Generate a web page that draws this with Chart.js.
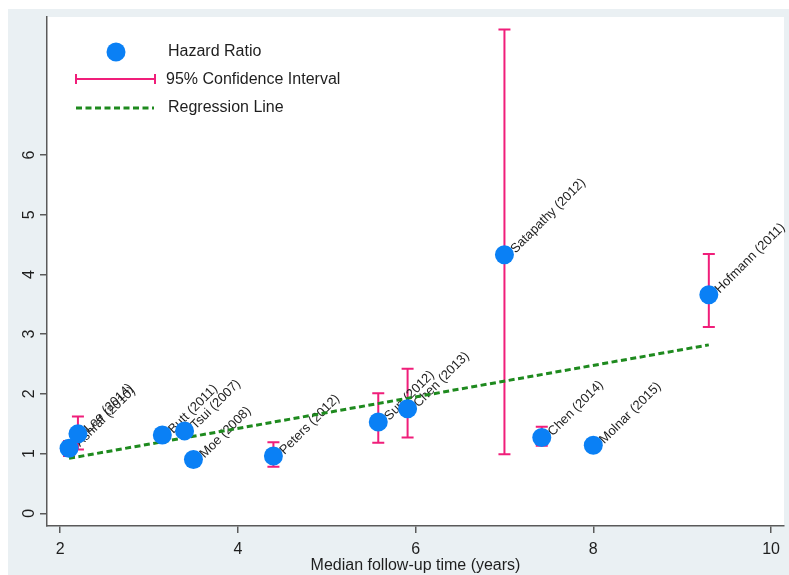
<!DOCTYPE html>
<html>
<head>
<meta charset="utf-8">
<title>Hazard ratio by median follow-up</title>
<script src="https://cdn.jsdelivr.net/npm/chart.js@4.4.0/dist/chart.umd.min.js"></script>
<style>
  html, body { margin: 0; padding: 0; background: #fff; }
  #wrap { position: relative; width: 789px; height: 575px; }
</style>
</head>
<body>
<div id="wrap"><canvas id="chart"></canvas></div>
<script>
// data
var studies  = ['Ashraf (2010)', 'Lee (2014)', 'Butt (2011)', 'Tsui (2007)', 'Moe (2008)', 'Peters (2012)',
                'Sun (2012)', 'Chen (2013)', 'Satapathy (2012)', 'Chen (2014)', 'Molnar (2015)', 'Hofmann (2011)'];
var followUp = [2.10, 2.20, 3.15, 3.40, 3.50, 4.40, 5.58, 5.91, 7.00, 7.42, 8.00, 9.30];
var hazard   = [1.09, 1.33, 1.31, 1.38, 0.90, 0.96, 1.53, 1.75, 4.33, 1.27, 1.14, 3.66];
var ciLow    = [0.96, 1.07, 1.25, 1.33, 0.86, 0.78, 1.18, 1.27, 0.99, 1.13, 1.10, 3.12];
var ciHigh   = [1.21, 1.62, 1.37, 1.43, 0.95, 1.19, 2.01, 2.42, 8.10, 1.45, 1.19, 4.34];

var regX = [2.10, 9.30];
var regY = [0.92, 2.82];

var xTicks = [2, 4, 6, 8, 10];
var yTicks = [0, 1, 2, 3, 4, 5, 6];
var legendLabels = ['Hazard Ratio', '95% Confidence Interval', 'Regression Line'];
var xTitle = 'Median follow-up time (years)';

var HR_COLOR = '#0a80f5';
var CI_COLOR = '#f01e7a';
var REG_COLOR = '#1e8a1e';
var AXIS_COLOR = '#5a5a5a';
var TEXT_COLOR = '#1e1e1e';
var FONT = '"Liberation Sans", Arial, Helvetica, sans-serif';

var points = followUp.map(function (x, i) { return {x: x, y: hazard[i]}; });
var regPoints = regX.map(function (x, i) { return {x: x, y: regY[i]}; });

var background = {
  id: 'background',
  beforeDraw: function (chart) {
    var ctx = chart.ctx, a = chart.chartArea;
    ctx.save();
    ctx.fillStyle = '#eaf0f3';
    ctx.fillRect(8, 9, chart.width - 8, chart.height - 9);
    ctx.fillStyle = '#fff';
    ctx.fillRect(a.left, a.top, a.right - a.left, a.bottom - a.top);
    ctx.restore();
  }
};

var errorBars = {
  id: 'errorBars',
  beforeDatasetsDraw: function (chart) {
    var ctx = chart.ctx, xs = chart.scales.x, ys = chart.scales.y;
    ctx.save();
    ctx.strokeStyle = CI_COLOR;
    ctx.lineWidth = 2;
    for (var i = 0; i < studies.length; i++) {
      var px = xs.getPixelForValue(followUp[i]);
      var lo = ys.getPixelForValue(ciLow[i]);
      var hi = ys.getPixelForValue(ciHigh[i]);
      ctx.beginPath();
      ctx.moveTo(px, lo); ctx.lineTo(px, hi);
      ctx.moveTo(px - 6, lo); ctx.lineTo(px + 6, lo);
      ctx.moveTo(px - 6, hi); ctx.lineTo(px + 6, hi);
      ctx.stroke();
    }
    // study labels, rotated 45 degrees
    ctx.fillStyle = TEXT_COLOR;
    ctx.font = '13px ' + FONT;
    ctx.textAlign = 'left';
    ctx.textBaseline = 'middle';
    for (var j = 0; j < studies.length; j++) {
      var x = xs.getPixelForValue(followUp[j]);
      var y = ys.getPixelForValue(hazard[j]);
      ctx.save();
      ctx.translate(x + 8.5, y - 3.5);
      ctx.rotate(-Math.PI / 4);
      ctx.fillText(studies[j], 0, 0);
      ctx.restore();
    }
    ctx.restore();
  }
};

var legendBox = {
  id: 'legendBox',
  afterDatasetsDraw: function (chart) {
    var ctx = chart.ctx, a = chart.chartArea;
    var l = a.left, t = a.top;
    ctx.save();
    // marker
    ctx.fillStyle = HR_COLOR;
    ctx.beginPath();
    ctx.arc(l + 69, t + 35, 9.5, 0, Math.PI * 2);
    ctx.fill();
    // CI
    ctx.strokeStyle = CI_COLOR;
    ctx.lineWidth = 2;
    ctx.beginPath();
    ctx.moveTo(l + 29, t + 62); ctx.lineTo(l + 108, t + 62);
    ctx.moveTo(l + 29, t + 57); ctx.lineTo(l + 29, t + 67);
    ctx.moveTo(l + 108, t + 57); ctx.lineTo(l + 108, t + 67);
    ctx.stroke();
    // regression
    ctx.strokeStyle = REG_COLOR;
    ctx.lineWidth = 3;
    ctx.setLineDash([6, 3.5]);
    ctx.beginPath();
    ctx.moveTo(l + 29, t + 91); ctx.lineTo(l + 107, t + 91);
    ctx.stroke();
    ctx.setLineDash([]);
    // text
    ctx.fillStyle = TEXT_COLOR;
    ctx.font = '16px ' + FONT;
    ctx.textAlign = 'left';
    ctx.textBaseline = 'middle';
    ctx.fillText(legendLabels[0], l + 121, t + 35);
    ctx.fillText(legendLabels[1], l + 119, t + 63);
    ctx.fillText(legendLabels[2], l + 121, t + 91);
    ctx.restore();
  }
};

new Chart(document.getElementById('chart'), {
  type: 'scatter',
  data: {
    datasets: [{
      label: legendLabels[0],
      data: points,
      backgroundColor: HR_COLOR,
      borderColor: HR_COLOR,
      borderWidth: 0,
      pointRadius: 9.5,
      pointHoverRadius: 9.5,
      order: 0
    }, {
      type: 'line',
      label: legendLabels[2],
      data: regPoints,
      borderColor: REG_COLOR,
      borderWidth: 3,
      borderDash: [6, 3.5],
      pointRadius: 0,
      fill: false,
      order: 1
    }]
  },
  options: {
    responsive: true,
    maintainAspectRatio: false,
    animation: false,
    layout: {autoPadding: false, padding: {top: 17, right: 5, left: 0, bottom: 0}},
    plugins: {legend: {display: false}, tooltip: {enabled: false}},
    scales: {
      x: {
        type: 'linear',
        min: 1.852,
        max: 10.146,
        afterBuildTicks: function (s) { s.ticks = xTicks.map(function (v) { return {value: v}; }); },
        afterFit: function (s) { s.height = 49; },
        ticks: {font: {family: FONT, size: 16}, color: TEXT_COLOR, padding: 7, maxRotation: 0},
        grid: {display: true, drawOnChartArea: false, drawTicks: true, tickLength: 7, color: AXIS_COLOR, lineWidth: 1.5},
        border: {display: true, color: AXIS_COLOR, width: 1.5},
        title: {display: true, text: xTitle, font: {family: FONT, size: 16}, color: TEXT_COLOR, padding: 0}
      },
      y: {
        type: 'linear',
        min: -0.213,
        max: 8.311,
        afterBuildTicks: function (s) { s.ticks = yTicks.map(function (v) { return {value: v}; }); },
        afterFit: function (s) { s.width = 47; },
        ticks: {font: {family: FONT, size: 16}, color: TEXT_COLOR, padding: 6, minRotation: 90, maxRotation: 90, crossAlign: 'center'},
        grid: {display: true, drawOnChartArea: false, drawTicks: true, tickLength: 7, color: AXIS_COLOR, lineWidth: 1.5},
        border: {display: true, color: AXIS_COLOR, width: 1.5}
      }
    }
  },
  plugins: [background, errorBars, legendBox]
});
</script>
</body>
</html>
